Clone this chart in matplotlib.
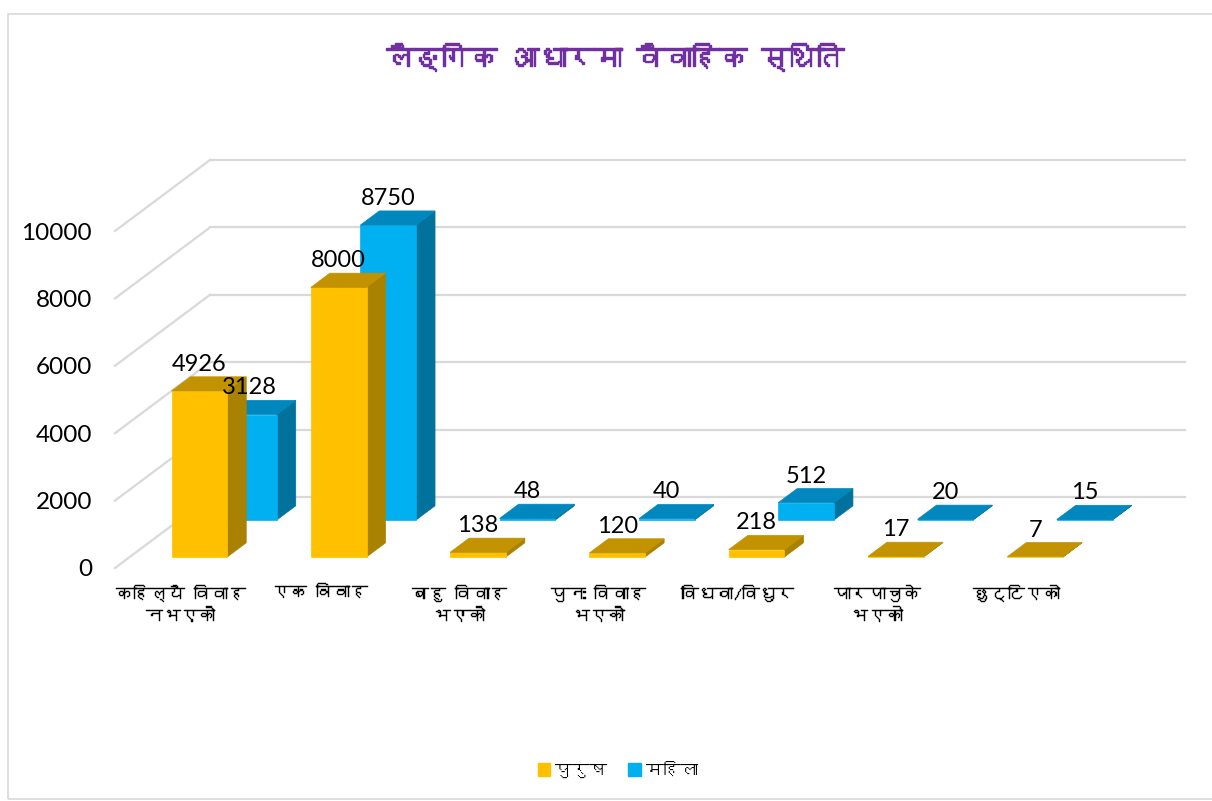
import matplotlib
matplotlib.use("Agg")
import matplotlib.pyplot as plt
import matplotlib.patheffects as pe
from matplotlib import font_manager
from matplotlib.ft2font import FT2Font
from matplotlib.patches import Polygon, Rectangle

# data
categories = ["कहिल्यै विवाह\nनभएको", "एक विवाह", "बहु विवाह\nभएको", "पुनः विवाह\nभएको",
              "विधवा/विधुर", "पारपाचुके\nभएको", "छुट्टिएको"]
male = [4926, 8000, 138, 120, 218, 17, 7]
female = [3128, 8750, 48, 40, 512, 20, 15]
series_names = ["पुरुष", "महिला"]
yticks = [0, 2000, 4000, 6000, 8000, 10000]
title = "लैङ्गिक आधारमा वैवाहिक स्थिति"


def find_deva_fonts():
    names = []
    for f in font_manager.fontManager.ttflist:
        if f.name in names:
            continue
        try:
            if ord("क") in FT2Font(f.fname).get_charmap():
                names.append(f.name)
        except Exception:
            pass
    return names


deva = find_deva_fonts()
deva_family = deva + ["Lato", "DejaVu Sans"]
num_family = ["Lato", "DejaVu Sans"]

W, H = 1212, 801
fig = plt.figure(figsize=(W / 100, H / 100), dpi=100)
ax = fig.add_axes([0, 0, 1, 1])
ax.axis("off")

# pixel geometry of the oblique view (back wall)
SLOT = 139.3          # px per category
X0_PX = 210           # left edge of back wall
Y0_PX = 497           # value 0 on back wall
PPU = 0.0337          # px per value unit
DEPTH_DX = -95 / SLOT   # x shift (category units) from back to front
DEPTH_DY = -71 / PPU    # y shift (value units) from back to front

ax.set_xlim((0 - X0_PX) / SLOT - 0.5, (W - X0_PX) / SLOT - 0.5)
ax.set_ylim((Y0_PX - H) / PPU, Y0_PX / PPU)


def proj(x, v, d):
    return (x + DEPTH_DX * d, v + DEPTH_DY * d)


n = len(categories)
grid_c = "#D9D9D9"
for v in yticks:
    a = proj(-0.5, v, 0)
    b = proj(n - 0.5, v, 0)
    c = proj(-0.5, v, 1)
    ax.plot([a[0], b[0]], [a[1], b[1]], color=grid_c, lw=1.6, zorder=1)
    ax.plot([c[0], a[0]], [c[1], a[1]], color=grid_c, lw=1.6, zorder=1)
    ax.text(c[0] - 23 / SLOT, c[1] - 2 / PPU, f"{v}", ha="right", va="center",
            fontsize=17.5, family=num_family, color="#000000")


def bar3d(x, h, d_front, d_back, front_c, top_c, side_c, z):
    x0, x1 = x - 0.2, x + 0.2
    front = [proj(x0, 0, d_front), proj(x1, 0, d_front), proj(x1, h, d_front), proj(x0, h, d_front)]
    top = [proj(x0, h, d_front), proj(x1, h, d_front), proj(x1, h, d_back), proj(x0, h, d_back)]
    side = [proj(x1, 0, d_front), proj(x1, 0, d_back), proj(x1, h, d_back), proj(x1, h, d_front)]
    for pts, col in ((side, side_c), (front, front_c), (top, top_c)):
        ax.add_patch(Polygon(pts, closed=True, facecolor=col, edgecolor=col, lw=0.5, zorder=z))
    ly = proj(x, h, d_back)[1]
    lx = proj(x, h, d_front)[0]
    ax.text(lx, ly + 2 / PPU, f"{h}", ha="center", va="bottom", fontsize=17,
            family=num_family, color="#000000", zorder=10)


# back row (female) first, then front row (male)
for i, v in enumerate(female):
    bar3d(i, v, 0.324, 0.124, "#00B0F0", "#0087BD", "#00729C", 3)
for i, v in enumerate(male):
    bar3d(i, v, 0.845, 0.645, "#FFC000", "#C29200", "#A88200", 5)

for i, lab in enumerate(categories):
    x, _ = proj(i, 0, 1)
    ax.text(x - 4 / SLOT, -17 / PPU + DEPTH_DY, lab, ha="center", va="top",
            fontsize=12.5, family=deva_family, color="#000000", linespacing=1.5,
            path_effects=[pe.withStroke(linewidth=0.3, foreground="#000000")])

fig.text(615 / W, 1 - 57 / H, title, ha="center", va="center", fontsize=20,
         fontweight="bold", color="#7030A0", family=deva_family,
         path_effects=[pe.withStroke(linewidth=1.0, foreground="#7030A0")])

# legend
handles = [Rectangle((0, 0), 1, 1, color="#FFC000"), Rectangle((0, 0), 1, 1, color="#00B0F0")]
fig.legend(handles, series_names, loc="center", bbox_to_anchor=(618 / W, 1 - 770 / H),
           ncol=2, frameon=False, prop={"family": deva_family, "size": 12.5},
           handlelength=0.7, handleheight=0.7, handletextpad=0.3, columnspacing=1.2)

# chart border
fig.add_artist(Rectangle((8 / W, 0.002), 1.0, 1 - 14 / H - 0.002, transform=fig.transFigure,
                         fill=False, edgecolor="#D9D9D9", lw=1.2))

fig.savefig("out.png", dpi=100, facecolor="white")
